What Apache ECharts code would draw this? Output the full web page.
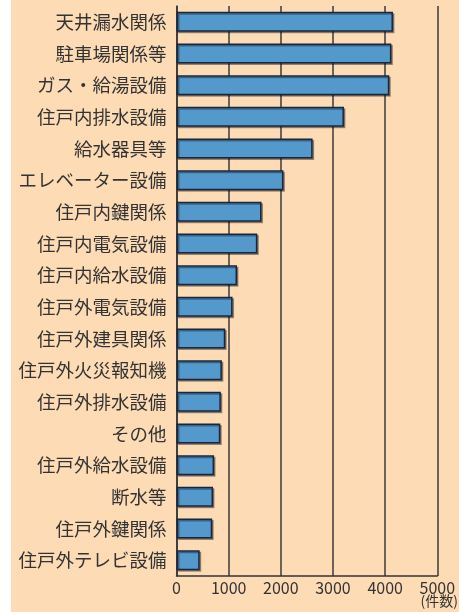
<!DOCTYPE html>
<html><head><meta charset="utf-8">
<script src="https://cdn.jsdelivr.net/npm/echarts@6/dist/echarts.min.js"></script>
<style>html,body{margin:0;padding:0;background:#fff}#c{width:459px;height:612px}</style>
</head><body><div id="c"></div>
<script>
const categories = ["天井漏水関係","駐車場関係等","ガス・給湯設備","住戸内排水設備","給水器具等","エレベーター設備","住戸内鍵関係","住戸内電気設備","住戸内給水設備","住戸外電気設備","住戸外建具関係","住戸外火災報知機","住戸外排水設備","その他","住戸外給水設備","断水等","住戸外鍵関係","住戸外テレビ設備"];
const values = [4150,4120,4080,3210,2610,2050,1630,1550,1160,1075,935,870,850,840,720,700,685,445];
const xTicks = [0,1000,2000,3000,4000,5000];

const chart = echarts.init(document.getElementById('c'), null, {renderer:'canvas'});
chart.setOption({
  animation:false,
  backgroundColor:'transparent',
  graphic:[
    {type:'rect', z:-100, silent:true, shape:{x:11,y:0,width:448,height:612}, style:{fill:'#FDDBB5'}},
    {type:'text', right:1, top:594, style:{text:'(件数)', font:'14px "Noto Sans CJK JP"', fill:'#333'}}
  ],
  grid:{left:176.5, right:21.7, top:6, bottom:36, containLabel:false},
  xAxis:{
    type:'value', min:xTicks[0], max:xTicks[xTicks.length-1], interval:1000,
    axisLine:{show:true, lineStyle:{color:'#333', width:1.5}},
    axisTick:{show:false},
    splitLine:{show:true, lineStyle:{color:'#3a3a3a', width:1.5}},
    axisLabel:{color:'#333', fontSize:16, fontFamily:'"Noto Sans CJK JP"', margin:4,
      formatter: v => String(v)}
  },
  yAxis:{
    type:'category', data:categories, inverse:true,
    axisLine:{show:true, lineStyle:{color:'#333', width:1.5}},
    axisTick:{show:false},
    axisLabel:{color:'#333', fontSize:18.5, fontFamily:'"Noto Sans CJK JP"', margin:10}
  },
  series:[{
    type:'bar', data:values, barWidth:'63%',
    itemStyle:{color:'#5499CB', borderColor:'#172740', borderWidth:1.5,
      shadowColor:'rgba(0,0,0,0.35)', shadowOffsetX:1.5, shadowOffsetY:1.5, shadowBlur:0}
  }]
});
</script></body></html>
